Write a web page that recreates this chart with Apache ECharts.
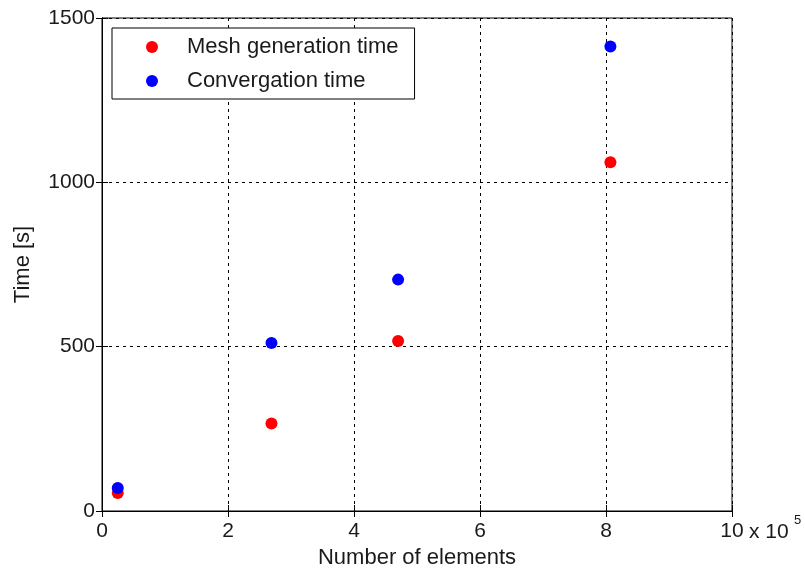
<!DOCTYPE html>
<html>
<head>
<meta charset="utf-8">
<script src="https://cdn.jsdelivr.net/npm/echarts@6/dist/echarts.min.js"></script>
<style>
  html, body { margin: 0; padding: 0; background: #fff; }
  #main { width: 805px; height: 574px; }
</style>
</head>
<body>
<div id="main"></div>
<script>
var chart = echarts.init(document.getElementById('main'));

// number of elements per mesh
var elements = [25000, 269000, 470000, 807000];
var meshTime = [55, 266, 517, 1061];
var convTime = [70, 511, 704, 1413];
var seriesNames = ['Mesh generation time', 'Convergation time'];

var FONT = '"Liberation Sans", Arial, sans-serif';
var TXT = '#1a1a1a';
var dash = { color: '#000', width: 1, type: [3, 4] };

function pairs(xs, ys) {
  return xs.map(function (x, i) { return [x, ys[i]]; });
}

var option = {
  animation: false,
  textStyle: { fontFamily: FONT },
  grid: { left: 102, right: 73, top: 18, bottom: 62, show: true, borderColor: '#000', borderWidth: 1 },
  legend: {
    orient: 'vertical',
    left: 112, top: 28,
    padding: [8, 16, 7, 34],
    borderColor: '#000', borderWidth: 1,
    backgroundColor: '#fff',
    itemWidth: 40, itemHeight: 12, itemGap: 12,
    icon: 'circle',
    textStyle: { fontSize: 22, color: TXT, padding: [0, 0, 0, 10] },
    data: seriesNames
  },
  xAxis: [{
    type: 'value', min: 0, max: 1000000, interval: 200000,
    name: 'Number of elements', nameLocation: 'middle', nameGap: 36,
    nameTextStyle: { fontSize: 22, color: TXT },
    axisLine: { lineStyle: { color: '#000' } },
    axisTick: { inside: true, length: 6, lineStyle: { color: '#000' } },
    axisLabel: { fontSize: 21, color: TXT, margin: 10, formatter: function (v) { return String(v / 100000); } },
    splitLine: { show: true, lineStyle: dash }
  }, {
    type: 'value', min: 0, max: 1000000, interval: 200000, position: 'top',
    axisLine: { show: true, lineStyle: { color: '#000' } },
    axisTick: { show: true, inside: true, length: 6, lineStyle: { color: '#000' } },
    axisLabel: { show: false }, splitLine: { show: false }
  }],
  yAxis: [{
    type: 'value', min: 0, max: 1500, interval: 500,
    name: 'Time [s]', nameLocation: 'middle', nameGap: 68,
    nameTextStyle: { fontSize: 22, color: TXT },
    axisLine: { show: true, lineStyle: { color: '#000' } },
    axisTick: { show: true, inside: true, length: 6, lineStyle: { color: '#000' } },
    axisLabel: { fontSize: 21, color: TXT, margin: 7, formatter: function (v) { return String(v); } },
    splitLine: { show: true, lineStyle: dash }
  }, {
    type: 'value', min: 0, max: 1500, interval: 500, position: 'right',
    axisLine: { show: true, lineStyle: { color: '#000' } },
    axisTick: { show: true, inside: true, length: 6, lineStyle: { color: '#000' } },
    axisLabel: { show: false }, splitLine: { show: false }
  }],
  graphic: [
    { type: 'text', left: 749, top: 522, style: { text: 'x 10', fontSize: 21, fill: TXT, fontFamily: FONT } },
    { type: 'text', left: 794, top: 514, style: { text: '5', fontSize: 13, fill: TXT, fontFamily: FONT } }
  ],
  series: [{
    name: seriesNames[0], type: 'scatter', symbol: 'circle', symbolSize: 12,
    itemStyle: { color: '#ff0000', opacity: 1 },
    data: pairs(elements, meshTime)
  }, {
    name: seriesNames[1], type: 'scatter', symbol: 'circle', symbolSize: 12,
    itemStyle: { color: '#0000ff', opacity: 1 },
    data: pairs(elements, convTime)
  }]
};
chart.setOption(option);
</script>
</body>
</html>
